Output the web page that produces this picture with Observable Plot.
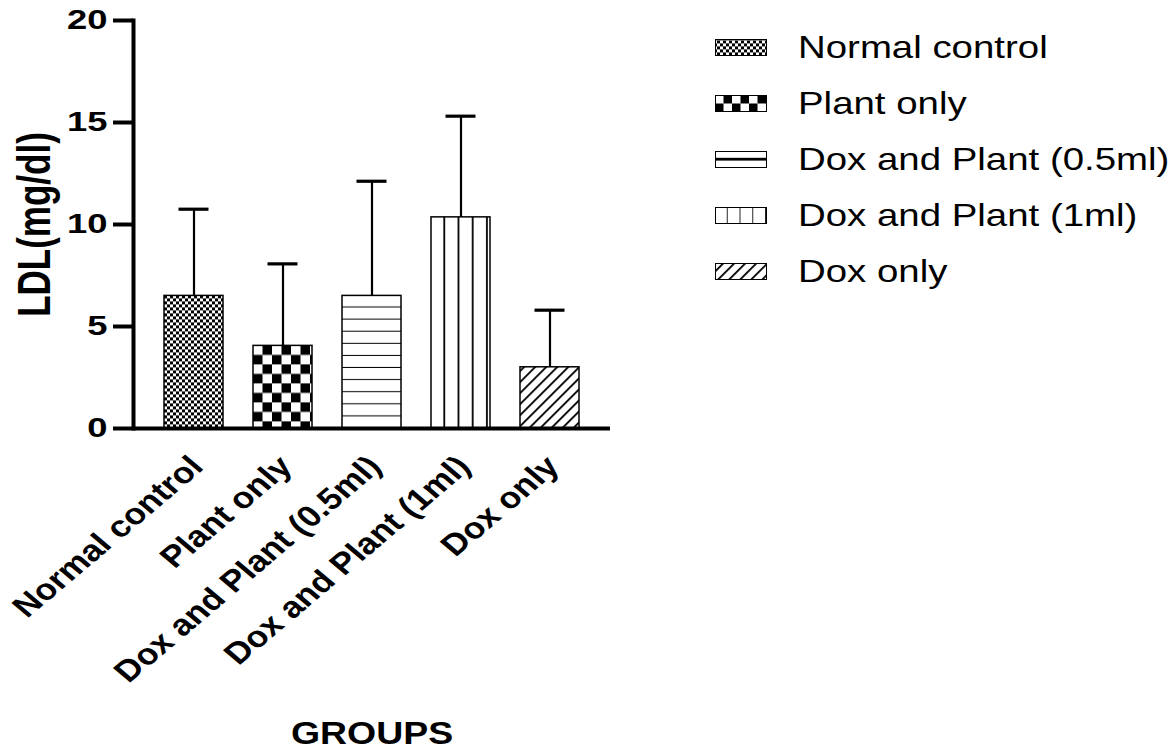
<!DOCTYPE html>
<html><head><meta charset="utf-8">
<script src="https://cdn.jsdelivr.net/npm/d3@7"></script>
<script src="https://cdn.jsdelivr.net/npm/@observablehq/plot@0.6"></script>
<style>
body{margin:0;background:#fff;}
#wrap{position:relative;width:1174px;height:751px;overflow:hidden;font-family:Arial,"Liberation Sans",sans-serif;background:#fff;}
#wrap svg.plot{position:absolute;left:0;top:0;}
.lg-row{position:absolute;left:715px;height:40px;display:flex;align-items:center;white-space:nowrap;}
.lg-row svg{display:block;flex:none;}
.lg-row span{margin-left:31px;font-size:32px;color:#000;line-height:1;transform:scaleX(1.2);transform-origin:0 50%;}
</style></head><body>
<svg width="0" height="0" style="position:absolute">
<defs>
  <pattern id="pFine" patternUnits="userSpaceOnUse" width="6" height="6">
    <rect width="6" height="6" fill="#fff"/><rect x="0" y="0" width="3" height="3" fill="#000"/><rect x="3" y="3" width="3" height="3" fill="#000"/>
  </pattern>
  <pattern id="pChecker" patternUnits="userSpaceOnUse" width="19" height="19">
    <rect width="19" height="19" fill="#fff"/><rect x="9.5" y="0" width="9.5" height="9.5" fill="#000"/><rect x="0" y="9.5" width="9.5" height="9.5" fill="#000"/>
  </pattern>
  <pattern id="pHoriz" patternUnits="userSpaceOnUse" width="10" height="12.1">
    <rect width="10" height="12.1" fill="#fff"/><rect x="0" y="11.1" width="10" height="2" fill="#000"/>
  </pattern>
  <pattern id="pVert" patternUnits="userSpaceOnUse" width="14.2" height="10">
    <rect width="14.2" height="10" fill="#fff"/><rect x="12.4" y="0" width="1.9" height="10" fill="#000"/>
  </pattern>
  <pattern id="pDiag" patternUnits="userSpaceOnUse" width="7.8" height="7.8" patternTransform="rotate(45)">
    <rect width="7.8" height="7.8" fill="#fff"/><rect x="0" y="0" width="1.8" height="7.8" fill="#000"/>
  </pattern>
  <pattern id="lgChecker" patternUnits="userSpaceOnUse" width="17" height="17">
    <rect width="17" height="17" fill="#fff"/><rect x="8.5" y="0" width="8.5" height="8.5" fill="#000"/><rect x="0" y="8.5" width="8.5" height="8.5" fill="#000"/>
  </pattern>
  <pattern id="lgHoriz" patternUnits="userSpaceOnUse" width="10" height="16">
    <rect width="10" height="16" fill="#fff"/><rect x="0" y="6.8" width="10" height="2.8" fill="#000"/>
  </pattern>
  <pattern id="lgVert" patternUnits="userSpaceOnUse" width="12.75" height="16">
    <rect width="12.75" height="16" fill="#fff"/><rect x="11.9" y="0" width="1.8" height="16" fill="#000"/>
  </pattern>
</defs>
</svg>
<div id="wrap"></div>
<script>
// ---- data ----
const groups = ["Normal control", "Plant only", "Dox and Plant (0.5ml)", "Dox and Plant (1ml)", "Dox only"];
const means  = [6.5, 4.05, 6.5, 10.35, 3.0];
const sds    = [4.25, 4.02, 5.62, 4.96, 2.8];
const yTicks = [0, 5, 10, 15, 20];
const yLabel = "LDL(mg/dl)";
const xLabel = "GROUPS";
const barPatterns = ["pFine", "pChecker", "pHoriz", "pVert", "pDiag"];
const legendPatterns = ["pFine", "lgChecker", "lgHoriz", "lgVert", "pDiag"];

const data = groups.map((g, i) => ({group: g, mean: means[i], sd: sds[i], upper: means[i] + sds[i], pat: barPatterns[i]}));

const plot = Plot.plot({
  width: 1174, height: 751,
  marginLeft: 133, marginRight: 564, marginTop: 20, marginBottom: 323,
  style: {fontFamily: 'Arial, "Liberation Sans", sans-serif', background: "transparent", color: "#000", overflow: "visible"},
  x: {domain: groups, padding: 0.34},
  y: {domain: [0, 20]},
  marks: [
    ...data.map(d => Plot.barY([d], {x: "group", y: "mean", fill: `url(#${d.pat})`, stroke: "#000", strokeWidth: 1.5})),
    Plot.ruleX(data, {x: "group", y1: "mean", y2: "upper", stroke: "#000", strokeWidth: 2.2}),
    Plot.tickY(data, {x: "group", y: "upper", stroke: "#000", strokeWidth: 3.2, insetLeft: 14.5, insetRight: 14.5}),
    Plot.ruleY([0], {stroke: "#000", strokeWidth: 4}),
    Plot.frame({anchor: "left", stroke: "#000", strokeWidth: 4}),
    Plot.axisY({ticks: yTicks, tickSize: 20, tickPadding: 6, strokeWidth: 4, fontSize: 28, fontWeight: "bold", label: null, tickFormat: d => String(d)}),
    Plot.axisX({tickSize: 0, tickRotate: -45, tickPadding: 33, dx: 3, fontSize: 30, fontWeight: "bold", label: null}),
    Plot.text([yLabel], {frameAnchor: "left", textAnchor: "middle", lineAnchor: "middle", text: d => d, rotate: -90, dx: -98, fontSize: 35, fontWeight: "bold"}),
    Plot.text([xLabel], {frameAnchor: "bottom", textAnchor: "middle", lineAnchor: "middle", text: d => d, dy: 305, fontSize: 32, fontWeight: "bold"})
  ]
});
plot.classList.add("plot");
const wrap = document.getElementById("wrap");
wrap.appendChild(plot);

// the reference is rendered horizontally wider: stretch text along the screen x direction
function stretch(el, s) {
  const t = el.getAttribute("transform");
  if (t && /rotate\(/.test(t)) el.setAttribute("transform", t.replace(/rotate\(/, `scale(${s},1) rotate(`));
  else if (t) el.setAttribute("transform", t + ` scale(${s},1)`);
  else {
    const x = +el.getAttribute("x") || 0, y = +el.getAttribute("y") || 0;
    el.removeAttribute("x"); el.removeAttribute("y");
    el.setAttribute("transform", `translate(${x},${y}) scale(${s},1)`);
  }
}
plot.querySelectorAll('g[aria-label="y-axis tick label"] text').forEach(el => stretch(el, 1.3));
plot.querySelectorAll('g[aria-label="x-axis tick label"] text').forEach(el => stretch(el, 1.18));
plot.querySelectorAll('g[aria-label="text"] text').forEach(el => stretch(el, el.textContent === yLabel ? 1.3 : 1.17));

// align bar patterns with each bar's top-left corner
const xs = plot.scale("x"), ys = plot.scale("y");
data.forEach(d => {
  const p = document.getElementById(d.pat);
  p.setAttribute("x", xs.apply(d.group));
  p.setAttribute("y", ys.apply(d.mean));
});

// legend
groups.forEach((g, i) => {
  const row = document.createElement("div");
  row.className = "lg-row";
  row.style.top = (27 + i * 56) + "px";
  row.innerHTML = `<svg width="52" height="17"><rect x="0.5" y="0.5" width="51" height="16" fill="url(#${legendPatterns[i]})" stroke="#000" stroke-width="1"/></svg><span>${g}</span>`;
  wrap.appendChild(row);
});
</script>
</body></html>
